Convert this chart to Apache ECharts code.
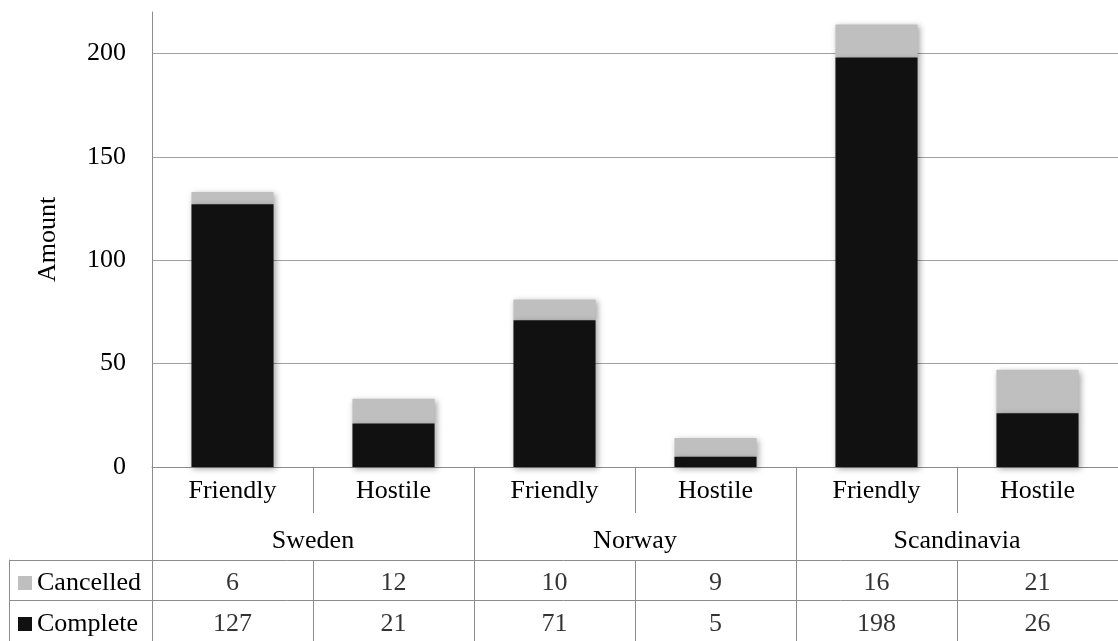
<!DOCTYPE html>
<html>
<head>
<meta charset="utf-8">
<script src="https://cdn.jsdelivr.net/npm/echarts@6/dist/echarts.min.js"></script>
<style>
  html, body { margin: 0; padding: 0; background: #fff; }
  #chart { width: 1118px; height: 641px; }
</style>
</head>
<body>
<div id="chart"></div>
<script>
// Missions per region and attitude, split into completed and cancelled
const categories = ['Friendly', 'Hostile', 'Friendly', 'Hostile', 'Friendly', 'Hostile'];
const regions = ['Sweden', 'Norway', 'Scandinavia'];
const seriesNames = ['Cancelled', 'Complete'];
const complete = [127, 21, 71, 5, 198, 26];
const cancelled = [6, 12, 10, 9, 16, 21];
const yTicks = [0, 50, 100, 150, 200];

const FONT = 'Liberation Serif, Times New Roman, serif';
const LINE = '#8c8c8c';
const BLACK = '#111111';
const GREY = '#bfbfbf';
const PLOT_LEFT = 152;
const PLOT_WIDTH = 974;

// Value cells of the data table: [column, row, value]
const tableCells = [];
cancelled.forEach((v, i) => tableCells.push([i, 0, v]));
complete.forEach((v, i) => tableCells.push([i, 1, v]));

const barShadow = {
  shadowBlur: 6,
  shadowOffsetX: 2,
  shadowOffsetY: 2,
  shadowColor: 'rgba(0,0,0,0.35)'
};

const chart = echarts.init(document.getElementById('chart'), null, { renderer: 'canvas' });

chart.setOption({
  animation: false,
  backgroundColor: '#ffffff',
  textStyle: { fontFamily: FONT, color: '#000' },
  legend: {
    data: seriesNames,
    orient: 'vertical',
    left: 18,
    top: 570,
    padding: 0,
    itemWidth: 14,
    itemHeight: 14,
    itemGap: 15,
    icon: 'rect',
    textStyle: { fontFamily: FONT, fontSize: 26, color: '#000', lineHeight: 26 },
    selectedMode: false
  },
  grid: [
    // plot area
    { left: PLOT_LEFT, width: PLOT_WIDTH, top: 12, height: 455 },
    // region row below the categories
    { left: PLOT_LEFT, width: PLOT_WIDTH, top: 467, height: 174 },
    // data table value cells
    { left: PLOT_LEFT, width: PLOT_WIDTH, top: 560, height: 86 },
    // data table rows including the legend column
    { left: 9, width: PLOT_WIDTH + PLOT_LEFT - 9, top: 560, height: 86 }
  ],
  xAxis: [
    {
      gridIndex: 0,
      type: 'category',
      data: categories,
      axisLine: { show: true, lineStyle: { color: LINE, width: 1 } },
      axisTick: { show: true, interval: 0, length: 46, lineStyle: { color: LINE } },
      axisLabel: {
        interval: 0, margin: 24, verticalAlign: 'middle',
        fontFamily: FONT, fontSize: 26, color: '#000'
      },
      splitLine: { show: false }
    },
    {
      gridIndex: 1,
      type: 'category',
      position: 'top',
      data: regions,
      axisLine: { show: false },
      axisTick: { show: false },
      axisLabel: {
        inside: true, interval: 0, margin: 74, verticalAlign: 'middle',
        fontFamily: FONT, fontSize: 26, color: '#000'
      },
      splitLine: { show: true, interval: 0, lineStyle: { color: LINE } }
    },
    {
      gridIndex: 2,
      type: 'category',
      data: categories,
      axisLine: { show: false },
      axisTick: { show: false },
      axisLabel: { show: false },
      splitLine: { show: true, interval: 0, lineStyle: { color: LINE } }
    },
    {
      gridIndex: 3,
      type: 'value',
      show: false
    }
  ],
  yAxis: [
    {
      gridIndex: 0,
      type: 'value',
      min: 0,
      max: 220,
      interval: 50,
      name: 'Amount',
      nameLocation: 'middle',
      nameRotate: 90,
      nameGap: 91,
      nameTextStyle: { fontFamily: FONT, fontSize: 26, color: '#000' },
      axisLine: { show: true, lineStyle: { color: LINE } },
      axisTick: { show: false },
      axisLabel: {
        margin: 26, fontFamily: FONT, fontSize: 26, color: '#000',
        showMaxLabel: false,
        formatter: v => (yTicks.indexOf(v) >= 0 ? String(v) : '')
      },
      splitLine: { show: true, showMaxLine: false, lineStyle: { color: '#a0a0a0', width: 1 } }
    },
    {
      gridIndex: 1,
      type: 'value',
      show: false
    },
    {
      gridIndex: 2,
      type: 'category',
      data: seriesNames,
      inverse: true,
      axisLine: { show: false },
      axisTick: { show: false },
      axisLabel: { show: false },
      splitLine: { show: false }
    },
    {
      gridIndex: 3,
      type: 'category',
      data: seriesNames,
      inverse: true,
      axisLine: { show: true, lineStyle: { color: LINE } },
      axisTick: { show: false },
      axisLabel: { show: false },
      splitLine: { show: true, interval: 0, lineStyle: { color: LINE } }
    }
  ],
  series: [
    {
      name: 'Complete',
      type: 'bar',
      stack: 'total',
      xAxisIndex: 0,
      yAxisIndex: 0,
      data: complete,
      barCategoryGap: '49%',
      itemStyle: Object.assign({ color: BLACK }, barShadow),
      z: 3
    },
    {
      name: 'Cancelled',
      type: 'bar',
      stack: 'total',
      xAxisIndex: 0,
      yAxisIndex: 0,
      data: cancelled,
      barCategoryGap: '49%',
      itemStyle: Object.assign({ color: GREY }, barShadow),
      z: 2
    },
    {
      name: 'table',
      type: 'scatter',
      xAxisIndex: 2,
      yAxisIndex: 2,
      data: tableCells,
      symbolSize: 1,
      itemStyle: { color: 'rgba(0,0,0,0)' },
      label: {
        show: true,
        position: 'inside',
        offset: [0, 3],
        formatter: p => String(p.value[2]),
        fontFamily: FONT,
        fontSize: 26,
        color: '#000'
      },
      silent: true
    }
  ]
});
</script>
</body>
</html>
